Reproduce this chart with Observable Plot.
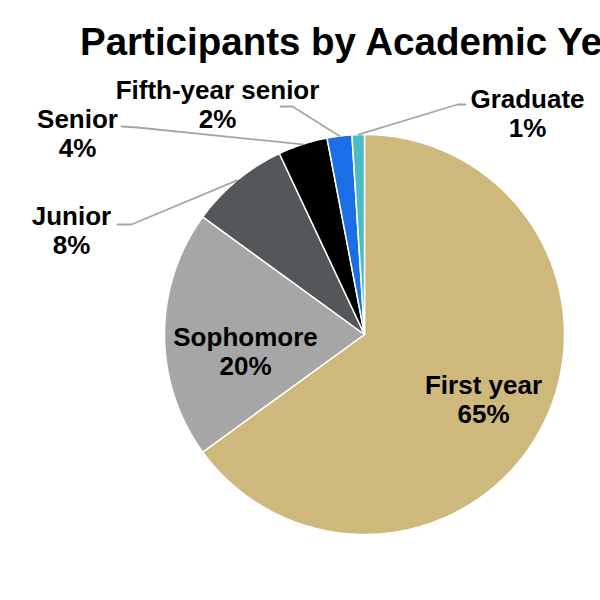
<!DOCTYPE html>
<html><head><meta charset="utf-8">
<script src="https://cdn.jsdelivr.net/npm/d3@7"></script>
<script src="https://cdn.jsdelivr.net/npm/@observablehq/plot@0.6"></script>
<style>
body{margin:0;background:#fff;}
#wrap{width:600px;height:600px;overflow:hidden;position:relative;background:#fff;}
#title{height:70px;box-sizing:border-box;padding:22px 0 0 80px;font:bold 38.5px "Liberation Sans",Arial,sans-serif;line-height:39px;white-space:nowrap;overflow:hidden;color:#000;}
</style></head><body>
<div id="wrap"><div id="title"></div><div id="chart"></div></div>
<script>
// ---- data ----
const chartTitle = "Participants by Academic Year";
const categories = ["First year", "Sophomore", "Junior", "Senior", "Fifth-year senior", "Graduate"];
const percents = [65, 20, 8, 4, 2, 1];
const colors = ["#CFB87C", "#A5A6A5", "#53575A", "#000000", "#1A6FE6", "#4BBCC7"];

// ---- layout (page pixels) ----
const pieCenter = [364, 334];
const pieRadius = 200;
const labelPos = {
  "First year": [483, 398.5],
  "Sophomore": [245, 350.5],
  "Junior": [71, 229.5],
  "Senior": [77, 132.5],
  "Fifth-year senior": [217, 103.5],
  "Graduate": [527, 112.5]
};
const leaderAnchors = {
  "Junior": [[117, 224], [131, 224]],
  "Senior": [[121, 126], [137, 127]],
  "Fifth-year senior": [[280, 106], [292, 106]],
  "Graduate": [[465, 104], [457, 104]]
};

document.getElementById("title").textContent = chartTitle;

const toU = px => (px - pieCenter[0]) / pieRadius;
const toV = py => (pieCenter[1] - py) / pieRadius;

const arcs = d3.pie().sort(null).value(d => d)(percents);
const slicePts = [];
arcs.forEach((a, i) => {
  const cat = categories[i];
  slicePts.push({cat, x: 0, y: 0});
  const n = Math.max(2, Math.ceil((a.endAngle - a.startAngle) / 0.01));
  for (let k = 0; k <= n; k++) {
    const t = a.startAngle + (a.endAngle - a.startAngle) * k / n;
    slicePts.push({cat, x: Math.sin(t), y: Math.cos(t)});
  }
  slicePts.push({cat, x: 0, y: 0});
});

const leaderPts = [];
arcs.forEach((a, i) => {
  const cat = categories[i];
  if (!leaderAnchors[cat]) return;
  for (const [px, py] of leaderAnchors[cat]) leaderPts.push({cat, x: toU(px), y: toV(py)});
  const m = (a.startAngle + a.endAngle) / 2;
  leaderPts.push({cat, x: Math.sin(m), y: Math.cos(m)});
});

const labels = categories.map((c, i) => ({cat: c, pct: percents[i], x: toU(labelPos[c][0]), y: toV(labelPos[c][1])}));

const plot = Plot.plot({
  width: 600,
  height: 530,
  margin: 0,
  x: {domain: [-1.82, 1.18], axis: null},
  y: {domain: [-1.33, 1.32], axis: null},
  color: {domain: categories, range: colors},
  style: {fontFamily: "'Liberation Sans', Arial, sans-serif", background: "#fff"},
  marks: [
    Plot.line(slicePts, {x: "x", y: "y", z: "cat", fill: "cat", stroke: "#fff", strokeWidth: 1.5, strokeLinejoin: "round", curve: "linear"}),
    Plot.line(leaderPts, {x: "x", y: "y", z: "cat", stroke: "#A6A6A6", strokeWidth: 1.8, curve: "linear"}),
    Plot.text(labels, {x: "x", y: "y", text: d => `${d.cat}\n${d.pct}%`, fontSize: 26, fontWeight: "bold", lineHeight: 1.12, fill: "#000"})
  ]
});
document.getElementById("chart").appendChild(plot);
</script>
</body></html>
